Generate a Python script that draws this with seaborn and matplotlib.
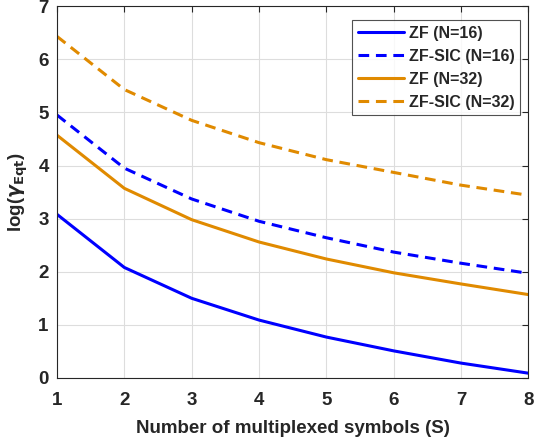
import numpy as np
import pandas as pd
import matplotlib
matplotlib.use("Agg")
import matplotlib.pyplot as plt
import seaborn as sns

S = [1, 2, 3, 4, 5, 6, 7, 8]
zf_16 = [3.08, 2.08, 1.50, 1.09, 0.77, 0.51, 0.28, 0.09]
zfsic_16 = [4.95, 3.95, 3.37, 2.95, 2.64, 2.37, 2.16, 1.97]
zf_32 = [4.57, 3.57, 2.98, 2.56, 2.24, 1.98, 1.77, 1.57]
zfsic_32 = [6.43, 5.43, 4.85, 4.43, 4.11, 3.87, 3.63, 3.44]
labels = ["ZF (N=16)", "ZF-SIC (N=16)", "ZF (N=32)", "ZF-SIC (N=32)"]

rows = []
for lab, vals in zip(labels, [zf_16, zfsic_16, zf_32, zfsic_32]):
    for s, v in zip(S, vals):
        rows.append({"S": s, "val": v, "series": lab})
df = pd.DataFrame(rows)

sns.set_theme(style="white")
plt.rcParams['font.family'] = ['Liberation Sans', 'DejaVu Sans']
plt.rcParams['font.weight'] = 'bold'

fig = plt.figure(figsize=(5.38, 4.4), dpi=100)
ax = fig.add_axes([0.106, 0.141, 0.876, 0.845])

blue = '#0000FF'
orange = '#E08A00'
palette = {labels[0]: blue, labels[1]: blue, labels[2]: orange, labels[3]: orange}
dashes = {labels[0]: '', labels[1]: (3.5, 2.2), labels[2]: '', labels[3]: (3.5, 2.2)}

sns.lineplot(data=df, x="S", y="val", hue="series", style="series",
             palette=palette, dashes=dashes, hue_order=labels, style_order=labels,
             linewidth=2.2, ax=ax)

ax.set_xlim(1, 8)
ax.set_ylim(0, 7)
ax.set_xticks(S)
ax.set_yticks(range(0, 8))
ax.grid(True, color='#dddddd', linewidth=0.8)
ax.tick_params(direction='in', length=4, top=True, right=True, labelsize=13.5,
               colors='#262626', width=0.8)
ax.tick_params(axis='x', pad=10)
ax.tick_params(axis='y', pad=6)
for lbl in ax.get_xticklabels() + ax.get_yticklabels():
    lbl.set_fontweight('bold')
for sp in ax.spines.values():
    sp.set_color('#262626')
    sp.set_linewidth(0.8)

ax.set_xlabel("Number of multiplexed symbols (S)", fontsize=13.5, fontweight='bold', color='#262626', labelpad=8)
ax.set_ylabel(r"log($\gamma_{\mathbf{Eqt}}$)", fontsize=13.5, fontweight='bold', color='#262626', labelpad=6)

leg = ax.legend(loc='upper right', bbox_to_anchor=(0.983, 0.962), fontsize=11.5,
                frameon=True, fancybox=False, edgecolor='#262626', borderaxespad=0,
                handlelength=2.9, borderpad=0.35, labelspacing=0.5, handletextpad=0.3)
leg.get_frame().set_linewidth(0.8)
for t in leg.get_texts():
    t.set_fontweight('bold')

fig.savefig("out.png", dpi=100)
